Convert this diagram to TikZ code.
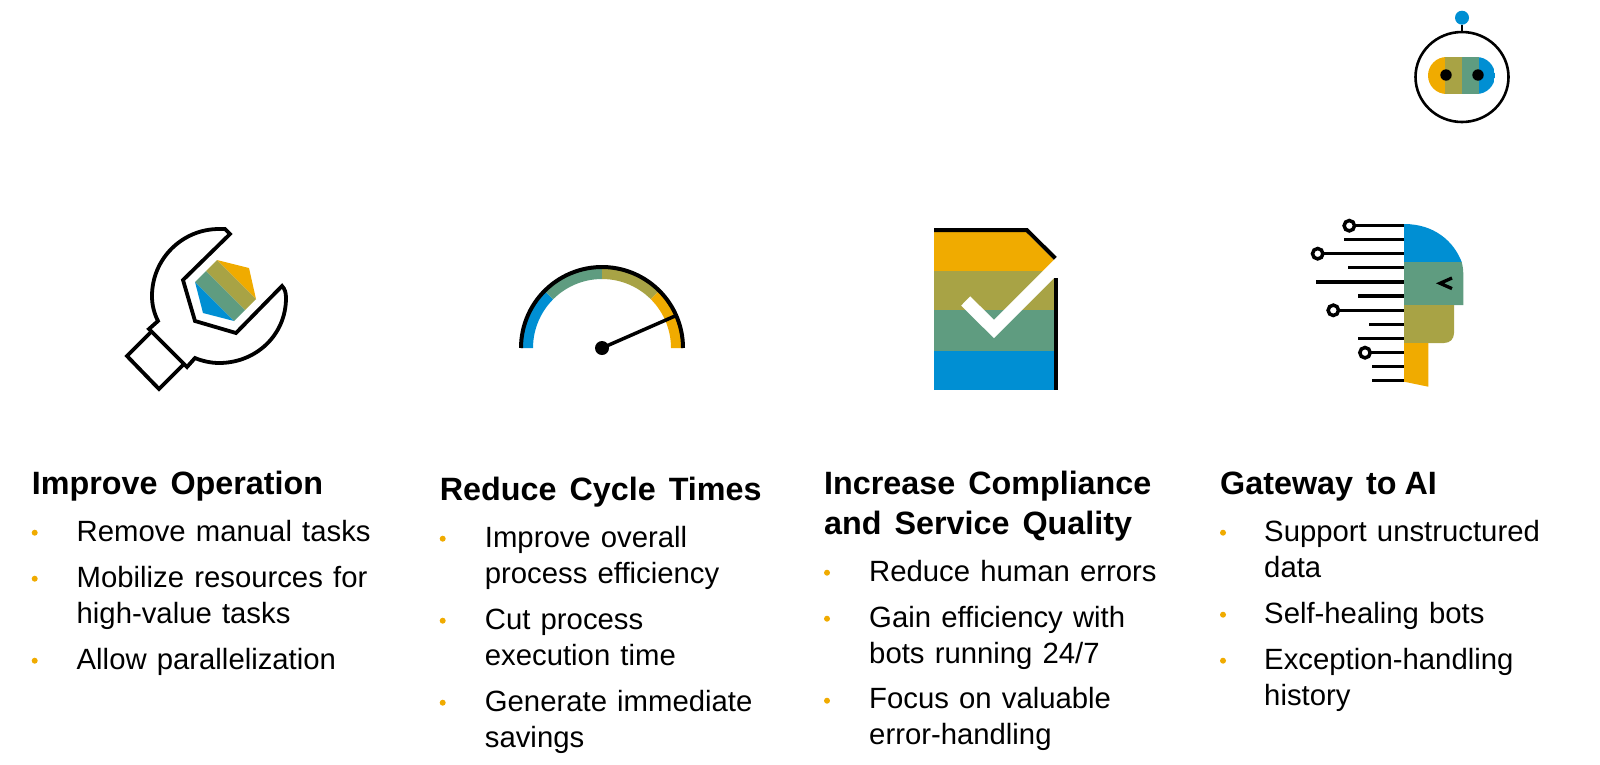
\documentclass[tikz,border=0pt]{standalone}
\usepackage{fontspec}
\setmainfont{Liberation Sans}[WordSpace=1.25]
\newfontfamily\headfont{Liberation Sans}[WordSpace=1.45]
\definecolor{sapyellow}{HTML}{F0AB00}
\definecolor{sapolive}{HTML}{A8A345}
\definecolor{sapgreen}{HTML}{5F9C80}
\definecolor{sapblue}{HTML}{008FD3}
\tikzset{
    headtxt/.style={anchor=base west, inner sep=0pt, align=left, font=\headfont\bfseries\fontsize{32.3}{40}\selectfont},
    itemtxt/.style={anchor=base west, inner sep=0pt, align=left, font=\fontsize{29.3}{36}\selectfont},
    bulletdot/.style={circle, fill=sapyellow, inner sep=0pt, minimum size=6pt},
    icon/.style={line width=3.8pt, color=black, miter limit=10}
}
\begin{document}
\begin{tikzpicture}[x=1pt, y=-1pt]
    \useasboundingbox (0,0) rectangle (1600,764);

    % robot
    \draw[line width=2.6pt] (1462,77) ellipse (46.5 and 45);
    \draw[line width=2.6pt] (1462,25) -- (1462,32);
    \fill[sapblue] (1462,17.7) circle (7);
    \begin{scope}
        \clip[rounded corners=18.5pt] (1428,57) rectangle (1495,94);
        \fill[sapyellow] (1428,57) rectangle (1445,94);
        \fill[sapolive] (1445,57) rectangle (1462,94);
        \fill[sapgreen] (1462,57) rectangle (1479,94);
        \fill[sapblue] (1479,57) rectangle (1495,94);
    \end{scope}
    \fill (1446,75) circle (5.7);
    \fill (1478,75) circle (5.7);

    % wrench
    \fill[sapyellow] (217,260) -- (249,268) -- (256,299) -- cycle;
    \fill[sapolive] (217,260) -- (256,299) -- (245,310) -- (206,271) -- cycle;
    \fill[sapgreen] (206,271) -- (245,310) -- (234,321) -- (195,282) -- cycle;
    \fill[sapblue] (195,282) -- (234,321) -- (203,313) -- cycle;
    \draw[icon, line join=miter] (230,234) -- (183,280) -- (195,321) -- (236,333) -- (282,286)
        .. controls (285,289) and (286,293) .. (286,298)
        .. controls (286,335) and (256,363) .. (219,363)
        .. controls (211,363) and (202,361) .. (195,358)
        -- (187,367) -- (149,329) -- (158,321)
        .. controls (154,313) and (152,305) .. (152,296)
        .. controls (152,259) and (182,229) .. (219,229)
        -- (225,229) -- cycle;
    \draw[icon, line join=miter] (152,331) -- (127,356) -- (159,389) -- (185,363);

    % gauge
    \foreach \a/\b/\c in {180/225/sapblue, 225/270/sapgreen, 270/315/sapolive, 315/360/sapyellow} {
        \fill[\c] plot[domain=\a:\b, samples=16, variable=\t] ({602+81*cos(\t)}, {348+81*sin(\t)})
            -- plot[domain=\b:\a, samples=16, variable=\t] ({602+69*cos(\t)}, {348+69*sin(\t)}) -- cycle;
    }
    \draw[line width=4pt] plot[domain=180:360, samples=60, variable=\t] ({602+81*cos(\t)}, {348+81*sin(\t)});
    \draw[line width=3.5pt] (602,348) -- (675,316);
    \fill (602,348) circle (7);

    % document
    \fill[sapyellow] (934,232) -- (1026,232) -- (1054,260) -- (1054,271) -- (934,271) -- cycle;
    \fill[sapolive] (934,271) rectangle (1054,310);
    \fill[sapgreen] (934,310) rectangle (1054,351);
    \fill[sapblue] (934,351) rectangle (1054,390);
    \draw[line width=4pt] (934,230) -- (1026.8,230) -- (1056,259);
    \fill (1054,278) rectangle (1058,390);
    \draw[line width=13pt, color=white] (965.7,301) -- (994,329) -- (1064,259);

    % head
    \foreach \y/\x in {225.7/1349, 239.7/1344, 253.7/1318, 267.7/1348, 282/1316, 296/1358,
        310.3/1333, 324.3/1369, 338.3/1358, 352.7/1365, 366.7/1372, 380.7/1372} {
        \draw[line width=3.3pt] (\x,\y) -- (1404,\y);
    }
    \foreach \y/\x in {225.7/1349.3, 253.7/1317.7, 310.3/1333.3, 352.7/1365} {
        \draw[line width=3.5pt, fill=white] (\x,\y) circle (5.2);
    }
    \fill[sapblue] (1404,224) .. controls (1435,224) and (1454,242) .. (1461.7,262) -- (1404,262) -- cycle;
    \fill[sapgreen] (1404,262) -- (1461.7,262) .. controls (1463,267) and (1463.3,271) .. (1463.3,276) -- (1463.3,305) -- (1404,305) -- cycle;
    \fill[sapolive] (1404,305) -- (1454,305) -- (1454,333) .. controls (1454,339) and (1450,343) .. (1444,343) -- (1404,343) -- cycle;
    \fill[sapyellow] (1404,343) -- (1428.3,343) -- (1428.3,386.7) -- (1404,381.7) -- cycle;
    \draw[line width=3.3pt] (1452,278) -- (1440,283.3) -- (1452,288.6);

    % first column
    \node[headtxt] (headoperation) at (31.7,494.5) {Improve Operation};
    \foreach \y [count=\i] in {532.7, 578.7, 660.7}
        \node[bulletdot] (bulleta\i) at (34.7,\y) {};
    \node[itemtxt] (manual) at (76.5,541.7) {Remove manual tasks};
    \node[itemtxt] (mobilize) at (76.5,623.2) {Mobilize resources for\\high-value tasks};
    \node[itemtxt] (parallel) at (76.5,669.5) {Allow parallelization};

    % second column
    \node[headtxt] (headcycle) at (439.7,500.5) {Reduce Cycle Times};
    \foreach \y [count=\i] in {538.7, 620.7, 702.7}
        \node[bulletdot] (bulletb\i) at (442.7,\y) {};
    \node[itemtxt] (overall) at (484.7,583.5) {Improve overall\\process efficiency};
    \node[itemtxt] (cut) at (484.7,665.5) {Cut process\\execution time};
    \node[itemtxt] (savings) at (484.7,747.2) {Generate immediate\\savings};

    % third column
    \node[headtxt] (headcompliance) at (824,534.5) {Increase Compliance\\and Service Quality};
    \foreach \y [count=\i] in {572.7, 618.7, 700.7}
        \node[bulletdot] (bulletc\i) at (827,\y) {};
    \node[itemtxt] (errors) at (869,581.2) {Reduce human errors};
    \node[itemtxt] (efficiency) at (869,663.2) {Gain efficiency with\\bots running 24/7};
    \node[itemtxt] (focus) at (869,744.8) {Focus on valuable\\error-handling};

    % fourth column
    \node[headtxt] (headai) at (1220,494.5) {Gateway to\kern-5pt\ AI};
    \foreach \y [count=\i] in {532.7, 614.7, 660.7}
        \node[bulletdot] (bulletd\i) at (1223,\y) {};
    \node[itemtxt] (unstructured) at (1264,577.2) {Support unstructured\\data};
    \node[itemtxt] (healing) at (1264,623.5) {Self-healing bots};
    \node[itemtxt] (exception) at (1264,705.2) {Exception-handling\\history};
\end{tikzpicture}
\end{document}
